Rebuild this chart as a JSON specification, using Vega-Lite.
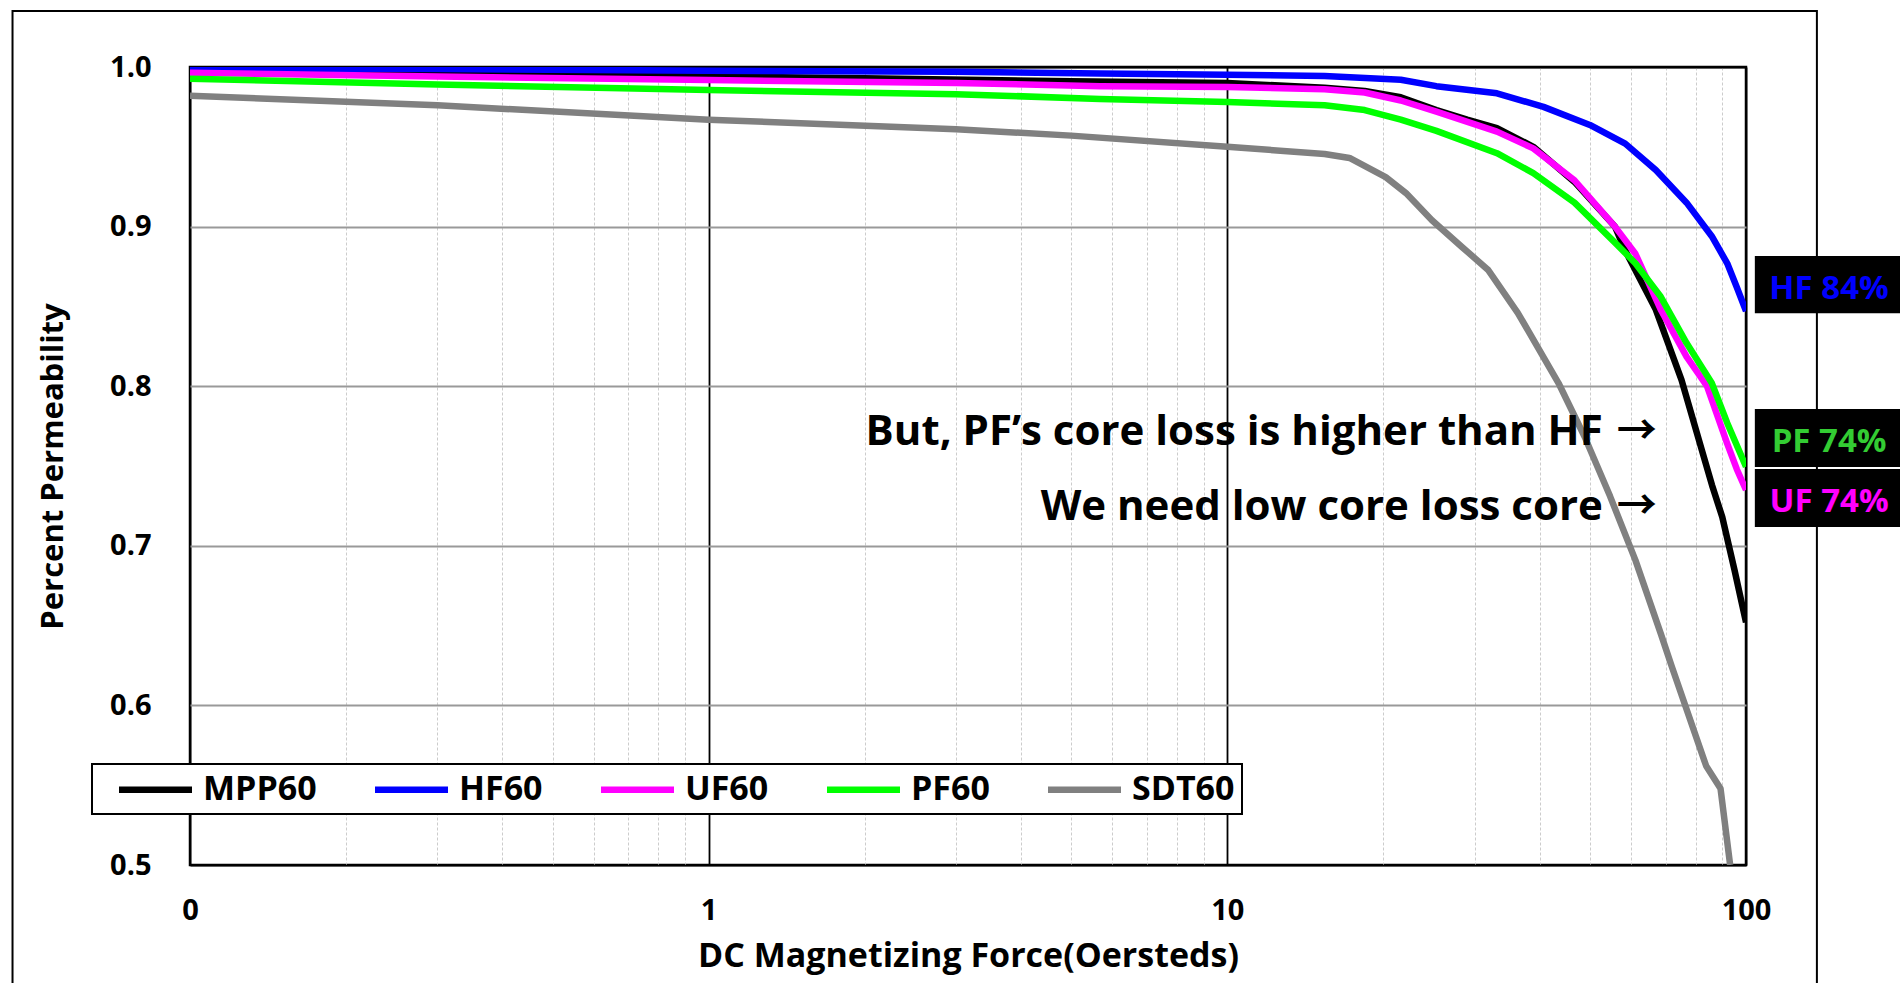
{
  "$schema": "https://vega.github.io/schema/vega-lite/v6.json",
  "autosize": "none",
  "width": 1556,
  "height": 798,
  "padding": {"left": 190, "top": 67, "right": 154, "bottom": 118},
  "background": "white",
  "config": {
    "font": "Open Sans",
    "view": {"stroke": "black", "strokeWidth": 2.5}
  },
  "datasets": {
    "curves": [
      {"series": "MPP60", "H": 0.1, "mu": 0.997},
      {"series": "MPP60", "H": 0.2, "mu": 0.9965},
      {"series": "MPP60", "H": 0.5, "mu": 0.995},
      {"series": "MPP60", "H": 1, "mu": 0.994},
      {"series": "MPP60", "H": 2, "mu": 0.993},
      {"series": "MPP60", "H": 5, "mu": 0.991},
      {"series": "MPP60", "H": 10, "mu": 0.99},
      {"series": "MPP60", "H": 15.4, "mu": 0.987},
      {"series": "MPP60", "H": 18.4, "mu": 0.985},
      {"series": "MPP60", "H": 21.6, "mu": 0.981},
      {"series": "MPP60", "H": 25.3, "mu": 0.973},
      {"series": "MPP60", "H": 29, "mu": 0.967},
      {"series": "MPP60", "H": 33.1, "mu": 0.9617},
      {"series": "MPP60", "H": 38.9, "mu": 0.95},
      {"series": "MPP60", "H": 46.7, "mu": 0.928},
      {"series": "MPP60", "H": 55.9, "mu": 0.9},
      {"series": "MPP60", "H": 58.5, "mu": 0.885},
      {"series": "MPP60", "H": 67, "mu": 0.848},
      {"series": "MPP60", "H": 75.1, "mu": 0.804},
      {"series": "MPP60", "H": 82.2, "mu": 0.76},
      {"series": "MPP60", "H": 86, "mu": 0.738},
      {"series": "MPP60", "H": 90, "mu": 0.718},
      {"series": "MPP60", "H": 95, "mu": 0.685},
      {"series": "MPP60", "H": 100, "mu": 0.652},
      {"series": "HF60", "H": 0.1, "mu": 0.9992},
      {"series": "HF60", "H": 0.3, "mu": 0.9987},
      {"series": "HF60", "H": 1, "mu": 0.9977},
      {"series": "HF60", "H": 3, "mu": 0.997},
      {"series": "HF60", "H": 5.68, "mu": 0.996},
      {"series": "HF60", "H": 10, "mu": 0.9952},
      {"series": "HF60", "H": 15.4, "mu": 0.9944},
      {"series": "HF60", "H": 21.6, "mu": 0.992},
      {"series": "HF60", "H": 25.3, "mu": 0.988},
      {"series": "HF60", "H": 33.1, "mu": 0.9835},
      {"series": "HF60", "H": 40.7, "mu": 0.975},
      {"series": "HF60", "H": 50, "mu": 0.9637},
      {"series": "HF60", "H": 58.5, "mu": 0.952},
      {"series": "HF60", "H": 67, "mu": 0.9355},
      {"series": "HF60", "H": 76.8, "mu": 0.915},
      {"series": "HF60", "H": 85.9, "mu": 0.894},
      {"series": "HF60", "H": 92, "mu": 0.877},
      {"series": "HF60", "H": 96, "mu": 0.862},
      {"series": "HF60", "H": 100, "mu": 0.847},
      {"series": "UF60", "H": 0.1, "mu": 0.9964},
      {"series": "UF60", "H": 0.3, "mu": 0.994},
      {"series": "UF60", "H": 1, "mu": 0.9918},
      {"series": "UF60", "H": 3, "mu": 0.99},
      {"series": "UF60", "H": 5.68, "mu": 0.988},
      {"series": "UF60", "H": 10, "mu": 0.9875},
      {"series": "UF60", "H": 15.4, "mu": 0.986},
      {"series": "UF60", "H": 18.4, "mu": 0.984},
      {"series": "UF60", "H": 21.6, "mu": 0.979},
      {"series": "UF60", "H": 25.3, "mu": 0.972},
      {"series": "UF60", "H": 33.1, "mu": 0.9595},
      {"series": "UF60", "H": 38.9, "mu": 0.949},
      {"series": "UF60", "H": 46.7, "mu": 0.929},
      {"series": "UF60", "H": 55.9, "mu": 0.9},
      {"series": "UF60", "H": 61.2, "mu": 0.883},
      {"series": "UF60", "H": 68.5, "mu": 0.848},
      {"series": "UF60", "H": 76.8, "mu": 0.8185},
      {"series": "UF60", "H": 84.1, "mu": 0.8},
      {"series": "UF60", "H": 92, "mu": 0.764},
      {"series": "UF60", "H": 96, "mu": 0.748},
      {"series": "UF60", "H": 100, "mu": 0.735},
      {"series": "PF60", "H": 0.1, "mu": 0.9927},
      {"series": "PF60", "H": 0.3, "mu": 0.989},
      {"series": "PF60", "H": 1, "mu": 0.9856},
      {"series": "PF60", "H": 3, "mu": 0.983},
      {"series": "PF60", "H": 5.68, "mu": 0.98},
      {"series": "PF60", "H": 10, "mu": 0.978},
      {"series": "PF60", "H": 15.4, "mu": 0.976},
      {"series": "PF60", "H": 18.4, "mu": 0.973},
      {"series": "PF60", "H": 21.6, "mu": 0.967},
      {"series": "PF60", "H": 25.3, "mu": 0.96},
      {"series": "PF60", "H": 33.1, "mu": 0.946},
      {"series": "PF60", "H": 38.9, "mu": 0.9335},
      {"series": "PF60", "H": 46.7, "mu": 0.915},
      {"series": "PF60", "H": 55.9, "mu": 0.89},
      {"series": "PF60", "H": 61.2, "mu": 0.877},
      {"series": "PF60", "H": 68.5, "mu": 0.856},
      {"series": "PF60", "H": 76.8, "mu": 0.827},
      {"series": "PF60", "H": 85.9, "mu": 0.802},
      {"series": "PF60", "H": 92, "mu": 0.777},
      {"series": "PF60", "H": 100, "mu": 0.7496},
      {"series": "SDT60", "H": 0.1, "mu": 0.982},
      {"series": "SDT60", "H": 0.3, "mu": 0.976},
      {"series": "SDT60", "H": 1, "mu": 0.967},
      {"series": "SDT60", "H": 3, "mu": 0.961},
      {"series": "SDT60", "H": 5, "mu": 0.957},
      {"series": "SDT60", "H": 10, "mu": 0.95},
      {"series": "SDT60", "H": 15.4, "mu": 0.9455},
      {"series": "SDT60", "H": 17.2, "mu": 0.943},
      {"series": "SDT60", "H": 20.2, "mu": 0.931},
      {"series": "SDT60", "H": 22.1, "mu": 0.921},
      {"series": "SDT60", "H": 24.8, "mu": 0.904},
      {"series": "SDT60", "H": 28.3, "mu": 0.8874},
      {"series": "SDT60", "H": 31.8, "mu": 0.873},
      {"series": "SDT60", "H": 36.3, "mu": 0.846},
      {"series": "SDT60", "H": 43.5, "mu": 0.802},
      {"series": "SDT60", "H": 48.9, "mu": 0.768},
      {"series": "SDT60", "H": 54.7, "mu": 0.731},
      {"series": "SDT60", "H": 61.2, "mu": 0.691},
      {"series": "SDT60", "H": 68.5, "mu": 0.645},
      {"series": "SDT60", "H": 71.9, "mu": 0.6245},
      {"series": "SDT60", "H": 83.8, "mu": 0.562},
      {"series": "SDT60", "H": 89.3, "mu": 0.548},
      {"series": "SDT60", "H": 93.2, "mu": 0.5}
    ],
    "notes": [
      {"note": "But, PF’s core loss is higher than HF", "H": 67.3, "mu": 0.7711},
      {"note": "We need low core loss core", "H": 67.3, "mu": 0.7241}
    ],
    "tags": [
      {"tag": "HF 84%", "lo": 0.8457, "hi": 0.8816, "mid": 0.8607},
      {"tag": "PF 74%", "lo": 0.7494, "hi": 0.7857, "mid": 0.7652},
      {"tag": "UF 74%", "lo": 0.7118, "hi": 0.7481, "mid": 0.7272}
    ]
  },
  "layer": [
    {
      "data": {"name": "curves"},
      "mark": {"type": "line", "strokeWidth": 6.5, "clip": true, "strokeJoin": "round"},
      "encoding": {
        "x": {
          "field": "H",
          "type": "quantitative",
          "title": "DC Magnetizing Force(Oersteds)",
          "scale": {"type": "log", "domain": [0.1, 100], "nice": false},
          "axis": {
            "values": [0.1, 0.2, 0.3, 0.4, 0.5, 0.6, 0.7, 0.8, 0.9, 1, 2, 3, 4, 5, 6, 7, 8, 9, 10, 20, 30, 40, 50, 60, 70, 80, 90, 100],
            "labelExpr": "datum.value == 0.1 ? '0' : datum.value == 1 ? '1' : datum.value == 10 ? '10' : datum.value == 100 ? '100' : ''",
            "grid": true,
            "gridColor": {"condition": {"test": "datum.value == 1 || datum.value == 10 || datum.value == 0.1 || datum.value == 100", "value": "#000000"}, "value": "#cccccc"},
            "gridWidth": {"condition": {"test": "datum.value == 1 || datum.value == 10 || datum.value == 0.1 || datum.value == 100", "value": 1.8}, "value": 1},
            "gridDash": {"condition": {"test": "datum.value == 1 || datum.value == 10 || datum.value == 0.1 || datum.value == 100", "value": [1, 0]}, "value": [3, 2]},
            "domain": false,
            "ticks": false,
            "tickSize": 0,
            "labelPadding": 31,
            "labelDx": -6,
            "labelFont": "Open Sans",
            "labelFontWeight": "bold",
            "labelFontSize": 29,
            "labelColor": "#000000",
            "labelOverlap": false,
            "labelFlush": false,
            "labelBound": false,
            "titleFont": "Open Sans",
            "titleFontWeight": "bold",
            "titleFontSize": 34,
            "titleColor": "#000000",
            "titlePadding": 14
          }
        },
        "y": {
          "field": "mu",
          "type": "quantitative",
          "title": "Percent Permeability",
          "scale": {"domain": [0.5, 1.0], "nice": false, "zero": false},
          "axis": {
            "values": [0.5, 0.6, 0.7, 0.8, 0.9, 1.0],
            "format": ".1f",
            "grid": true,
            "gridColor": {"condition": {"test": "datum.value == 0.5 || datum.value == 1", "value": "#000000"}, "value": "#999999"},
            "gridWidth": 2,
            "domain": false,
            "ticks": false,
            "tickSize": 0,
            "labelPadding": 39,
            "labelFont": "Open Sans",
            "labelFontWeight": "bold",
            "labelFontSize": 29,
            "labelColor": "#000000",
            "labelOverlap": false,
            "labelFlush": false,
            "labelBound": false,
            "titleFont": "Open Sans",
            "titleFontWeight": "bold",
            "titleFontSize": 31,
            "titleColor": "#000000",
            "titlePadding": 40
          }
        },
        "color": {
          "field": "series",
          "type": "nominal",
          "sort": ["MPP60", "HF60", "UF60", "PF60", "SDT60"],
          "scale": {"domain": ["MPP60", "HF60", "UF60", "PF60", "SDT60"], "range": ["#000000", "#0000ff", "#ff00ff", "#00ff00", "#808080"]},
          "legend": {
            "orient": "none",
            "legendX": -98,
            "legendY": 697,
            "direction": "horizontal",
            "columns": 5,
            "title": null,
            "fillColor": "white",
            "strokeColor": "black",
            "padding": 7,
            "cornerRadius": 0,
            "labelFont": "Open Sans",
            "labelFontWeight": "bold",
            "labelFontSize": 34,
            "labelColor": "#000000",
            "labelOffset": 29,
            "columnPadding": 38,
            "symbolType": "M-2.4333,0L2.4333,0",
            "symbolSize": 900,
            "symbolOffset": 38,
            "symbolStrokeWidth": 6.5,
            "encode": {"legend": {"update": {"strokeWidth": {"value": 2}}}}
          }
        }
      }
    },
    {
      "data": {"values": [{"frame": "outer"}]},
      "mark": {"type": "rect", "fill": null, "fillOpacity": 0, "stroke": "#000000", "strokeWidth": 2, "clip": false},
      "encoding": {
        "x": {"datum": 0.04548},
        "x2": {"datum": 136.99},
        "y": {"datum": 1.0351},
        "y2": {"datum": 0.4217}
      }
    },
    {
      "data": {"name": "notes"},
      "mark": {"type": "text", "align": "right", "baseline": "middle", "dx": -54, "font": "Open Sans", "fontWeight": "bold", "fontSize": 42, "color": "#000000", "clip": false},
      "encoding": {
        "x": {"field": "H", "type": "quantitative", "title": "DC Magnetizing Force(Oersteds)"},
        "y": {"field": "mu", "type": "quantitative", "title": "Percent Permeability"},
        "text": {"field": "note"}
      }
    },
    {
      "data": {"name": "notes"},
      "mark": {"type": "text", "align": "right", "baseline": "middle", "font": "Noto Sans CJK KR", "fontWeight": "bold", "fontSize": 40, "color": "#000000", "clip": false},
      "encoding": {
        "x": {"field": "H", "type": "quantitative", "title": "DC Magnetizing Force(Oersteds)"},
        "y": {"field": "mu", "type": "quantitative", "title": "Percent Permeability"},
        "text": {"value": "→"}
      }
    },
    {
      "data": {"name": "tags"},
      "mark": {"type": "rect", "color": "#000000", "clip": false},
      "encoding": {
        "x": {"datum": 104.0},
        "x2": {"datum": 207},
        "y": {"field": "hi", "type": "quantitative", "title": "Percent Permeability"},
        "y2": {"field": "lo"}
      }
    },
    {
      "data": {"name": "tags"},
      "mark": {"type": "text", "align": "center", "baseline": "middle", "font": "Open Sans", "fontWeight": "bold", "fontSize": 33, "clip": false},
      "encoding": {
        "x": {"datum": 144.6},
        "y": {"field": "mid", "type": "quantitative", "title": "Percent Permeability"},
        "text": {"field": "tag"},
        "color": {"condition": [{"test": "datum.tag == 'HF 84%'", "value": "#0000ff"}, {"test": "datum.tag == 'PF 74%'", "value": "#33cc33"}], "value": "#ff00ff"}
      }
    }
  ]
}
